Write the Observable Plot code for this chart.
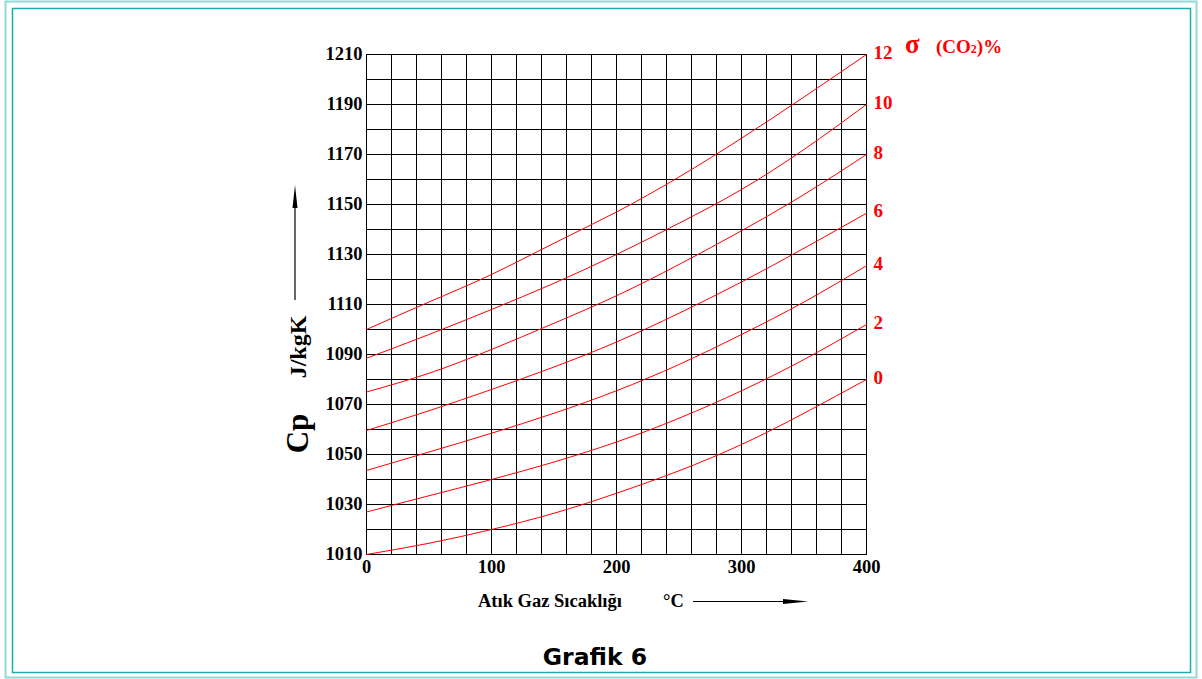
<!DOCTYPE html>
<html><head><meta charset="utf-8">
<script src="https://cdn.jsdelivr.net/npm/d3@7"></script>
<script src="https://cdn.jsdelivr.net/npm/@observablehq/plot@0.6"></script>
<style>body{margin:0;background:#fff}</style>
</head><body><div id="chart"></div>
<script>
// Data
const temps = [0, 50, 100, 150, 200, 250, 300, 350, 400];           // Atık gaz sıcaklığı, °C
const co2Labels = ["0", "2", "4", "6", "8", "10", "12"];            // σ (CO2) %
const cp0  = [1010, 1014.5, 1020, 1026.5, 1034.5, 1043.5, 1054, 1066.5, 1080];
const cp2  = [1027, 1033.5, 1040, 1047, 1055, 1064.5, 1075.5, 1088, 1102];
const cp4  = [1043.6, 1051, 1058.5, 1066.5, 1075.5, 1086, 1098, 1111, 1125.5];
const cp6  = [1059.6, 1067.5, 1076, 1085, 1095, 1106.5, 1119, 1132.5, 1146.5];
const cp8  = [1075, 1082.5, 1092, 1102.5, 1113.5, 1126, 1139.5, 1154, 1170];
const cp10 = [1088.5, 1098, 1108, 1118.5, 1130, 1142.5, 1156, 1172, 1190];
const cp12 = [1100, 1111, 1122, 1134.5, 1147, 1161, 1176.5, 1193, 1210];
const xTicks = [0, 100, 200, 300, 400];
const yTicks = [1010, 1030, 1050, 1070, 1090, 1110, 1130, 1150, 1170, 1190, 1210];
const xGrid = [0, 20, 40, 60, 80, 100, 120, 140, 160, 180, 200, 220, 240, 260, 280, 300, 320, 340, 360, 380, 400];
const yGrid = [1010, 1020, 1030, 1040, 1050, 1060, 1070, 1080, 1090, 1100, 1110, 1120, 1130, 1140, 1150, 1160, 1170, 1180, 1190, 1200, 1210];

const seriesValues = [cp0, cp2, cp4, cp6, cp8, cp10, cp12];
const rows = [];
seriesValues.forEach((vals, k) => vals.forEach((v, i) => rows.push({co2: co2Labels[k], t: temps[i], cp: v})));
const ends = seriesValues.map((vals, k) => ({label: co2Labels[k], t: temps[temps.length - 1], cp: vals[vals.length - 1]}));

const serif = "'Liberation Serif', 'Times New Roman', serif";
const plot = Plot.plot({
  width: 1202, height: 679,
  marginLeft: 366, marginRight: 336, marginTop: 54, marginBottom: 125,
  style: {fontFamily: serif, fontSize: "18.5px", fontWeight: "bold", color: "black", background: "white", overflow: "visible"},
  x: {domain: [0, 400], ticks: xTicks, tickFormat: d => String(d), tickSize: 0, tickPadding: 5, label: null},
  y: {domain: [1010, 1210], ticks: yTicks, tickFormat: d => String(d), tickSize: 0, tickPadding: 4, label: null},
  marks: [
    Plot.ruleX(xGrid, {stroke: "black", strokeWidth: 1}),
    Plot.ruleY(yGrid, {stroke: "black", strokeWidth: 1}),
    Plot.frame({stroke: "black", strokeWidth: 1}),
    Plot.line(rows, {x: "t", y: "cp", z: "co2", stroke: "red", strokeWidth: 1, curve: "natural"}),
    Plot.text(ends, {x: "t", y: "cp", text: "label", dx: 7, dy: -2, textAnchor: "start", fill: "red", fontSize: 19, fontWeight: "bold"})
  ]
});
document.getElementById("chart").appendChild(plot);

// Annotations
const svg = d3.select(plot);

// frame borders
svg.append("rect").attr("x", 5.5).attr("y", 1.5).attr("width", 1191).attr("height", 676)
  .attr("fill", "none").attr("stroke", "#8fd9d9").attr("stroke-width", 2);
svg.append("rect").attr("x", 12.5).attr("y", 8.5).attr("width", 1178).attr("height", 664)
  .attr("fill", "none").attr("stroke", "#19acac").attr("stroke-width", 1.5);

// y label
const yl = svg.append("g").attr("font-family", serif).attr("font-weight", "bold").attr("fill", "black").attr("text-anchor", "middle");
yl.append("text").attr("transform", "translate(308,433.5) rotate(-90)").attr("font-size", 31).text("Cp");
yl.append("text").attr("transform", "translate(306,347) rotate(-90)").attr("font-size", 24).text("J/kgK");
svg.append("line").attr("x1", 295).attr("x2", 295).attr("y1", 300).attr("y2", 200).attr("stroke", "black").attr("stroke-width", 1.2);
svg.append("path").attr("d", "M295,185 L297.5,208 L292.5,208 Z").attr("fill", "black");

// x label
const xl = svg.append("g").attr("font-family", serif).attr("font-weight", "bold").attr("fill", "black").attr("font-size", 18.5).attr("text-anchor", "start");
xl.append("text").attr("x", 478).attr("y", 607).text("Atık Gaz Sıcaklığı");
xl.append("text").attr("x", 663).attr("y", 607).text("°C");
svg.append("line").attr("x1", 693).attr("x2", 790).attr("y1", 601.5).attr("y2", 601.5).attr("stroke", "black").attr("stroke-width", 1.2);
svg.append("path").attr("d", "M808,601.5 L783,599 L783,604 Z").attr("fill", "black");

// right title
const rt = svg.append("g").attr("font-family", serif).attr("font-weight", "bold").attr("fill", "red").attr("text-anchor", "start");
rt.append("text").attr("x", 905).attr("y", 53).attr("font-size", 27).text("σ");
const t2 = rt.append("text").attr("x", 936).attr("y", 53).attr("font-size", 19);
t2.append("tspan").text("(CO");
t2.append("tspan").attr("font-size", 12).text("2");
t2.append("tspan").text(")%");

// caption
svg.append("text").attr("x", 595).attr("y", 665).attr("text-anchor", "middle")
  .attr("font-family", "'DejaVu Sans', Verdana, sans-serif").attr("font-weight", "bold").attr("font-size", 23.5)
  .attr("fill", "black").text("Grafik 6");
</script>
</body></html>
